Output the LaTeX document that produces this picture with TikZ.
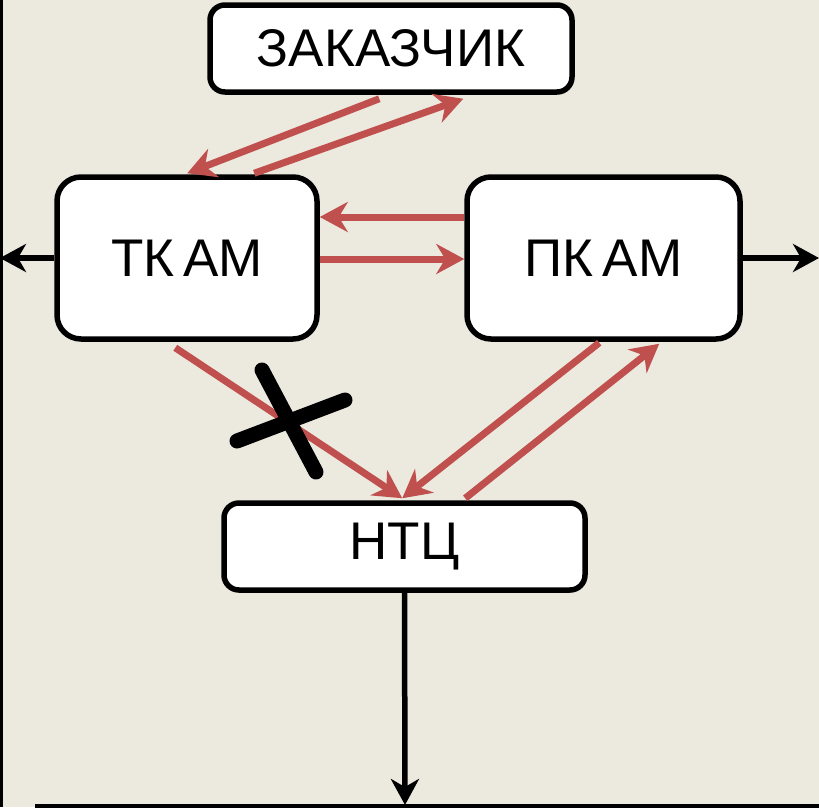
\documentclass[tikz,border=0pt]{standalone}
\usepackage{fontspec}
\setmainfont{Liberation Sans}
\usetikzlibrary{arrows.meta,calc}
\definecolor{bg}{HTML}{ECE9DF}
\definecolor{arrred}{HTML}{C0504D}
\tikzset{
  box/.style={draw=black, line width=5.5pt, fill=white, rectangle, inner sep=0pt, font=\fontsize{53}{58}\selectfont},
  redarrow/.style={draw=arrred, line width=7pt, -{Stealth[length=28pt,width=30pt,inset=9pt]}},
  blackarrow/.style={draw=black, line width=5.5pt, -{Stealth[length=26pt,width=28pt,inset=8pt]}},
  crossbar/.style={draw=black, line width=15pt, line cap=round},
}
\begin{document}
\begin{tikzpicture}[x=1pt,y=-1pt]
\useasboundingbox (0,0) rectangle (819,807);
\fill[bg] (0,0) rectangle (819,807);
\draw[line width=3pt] (1,0) -- (1,807);
\draw[line width=4pt] (35,806) -- (819,806);
% nodes
\node[box, rounded corners=15pt, minimum width=362pt, minimum height=87pt] (zak) at (391,48.5) {ЗАКАЗЧИК};
\node[box, rounded corners=24pt, minimum width=260pt, minimum height=162pt] (tk) at (187,258) {ТК\,АМ};
\node[box, rounded corners=24pt, minimum width=273pt, minimum height=162pt] (pk) at (603.5,258) {ПК\,АМ};
\node[box, rounded corners=15pt, minimum width=361pt, minimum height=87pt] (ntc) at (404.5,546.5) {НТЦ};
\coordinate (lout) at (0,258);
\coordinate (rout) at (819,258);
\coordinate (bout) at (405,805);
% red arrows
\draw[redarrow] ($(zak.south west)+(172,4)$) -- ($(tk.north west)+(133,-1)$);
\draw[redarrow] ($(tk.north west)+(200,-1)$) -- ($(zak.south west)+(256,4)$);
\draw[redarrow] ($(pk.west)+(0,-41)$) -- ($(tk.east)+(0,-41)$);
\draw[redarrow] ($(tk.east)+(0,1)$) -- ($(pk.west)+(0,1)$);
\draw[redarrow] ($(tk.south west)+(121,6)$) -- ($(ntc.north west)+(181,-2)$);
\draw[redarrow] ($(pk.south west)+(135,1)$) -- ($(ntc.north west)+(181,-2)$);
\draw[redarrow] ($(ntc.north west)+(244,-2)$) -- ($(pk.south west)+(195,2)$);
% black arrows
\draw[blackarrow] (tk.west) -- (lout);
\draw[blackarrow] (pk.east) -- (rout);
\draw[blackarrow] (ntc.south) -- (bout);
% cross
\draw[crossbar] (262,370) -- (316,472);
\draw[crossbar] (237,441) -- (345,400);
\end{tikzpicture}
\end{document}
